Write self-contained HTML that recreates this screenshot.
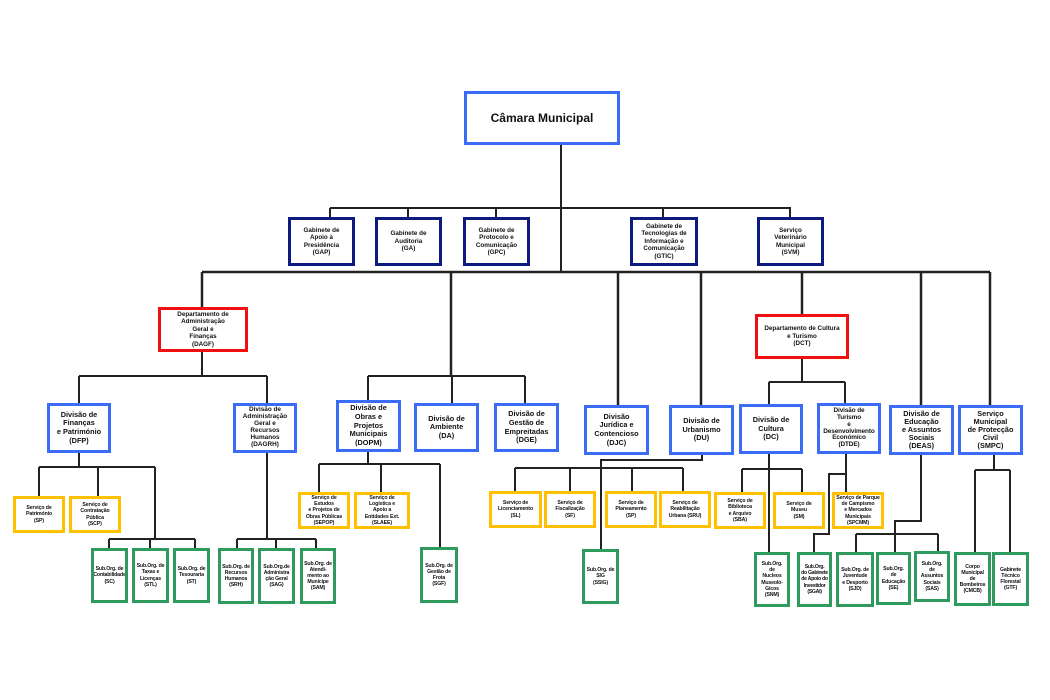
<!DOCTYPE html>
<html><head><meta charset="utf-8"><style>
html,body{margin:0;padding:0;background:#fff;width:1050px;height:700px;overflow:hidden}
.b{position:absolute;box-sizing:border-box;border:3px solid;display:flex;align-items:center;justify-content:center;text-align:center;font-family:"Liberation Sans",sans-serif;font-weight:bold;color:#111;background:#fff;line-height:1.18;overflow:hidden}
.bl{border-color:#3b6cf5;font-size:7.3px}
.nv{border-color:#0d1a80;font-size:6.3px;border-width:3.5px}
.rd{border-color:#f01010;font-size:6.3px}
.yl{border-color:#ffc000;font-size:5.2px;border-width:3.5px;letter-spacing:-0.1px}
.gr{border-color:#2e9a5e;font-size:5.2px;border-width:3.5px;letter-spacing:-0.15px}
svg{position:absolute;left:0;top:0}
</style></head><body>
<svg width="1050" height="700" fill="none" stroke="#222" stroke-width="2">
<path d="M561 144V272"/>
<path d="M330 208H791M330 208V217M408 208V217M496 208V217M663 208V217M790 208V217"/>
<path d="M202 272H990" stroke-width="2.5"/>
<path d="M202 272V307M451 272V376M618 272V405M701 272V405M802 272V314M921 272V405M990 272V405" stroke-width="2.5"/>
<path d="M202 351V376M79 376H267M79 376V403M267 376V403"/>
<path d="M79 452V467M39 467H155M39 467V496M98 467V496M155 467V539M109 539H195M109 539V548M150 539V548M195 539V548"/>
<path d="M267 452V539M237 539H316M237 539V548M276 539V548M316 539V548"/>
<path d="M368 376H525M368 376V400M452 376V403M525 376V403"/>
<path d="M368 451V464M319 464H440M319 464V492M381 464V492M440 464V547"/>
<path d="M702 454V460H601V549"/>
<path d="M515 468H683M515 468V491M570 468V491M632 468V491M683 468V491"/>
<path d="M802 358V382M769 382H845M769 382V404M845 382V403"/>
<path d="M769 453V552M742 469H802M742 469V492M802 469V492"/>
<path d="M846 453V492M846 474H829V534H814V552"/>
<path d="M921 454V521H895V552M856 534H938M856 534V552M938 534V551"/>
<path d="M994 454V470M975 470H1010M975 470V552M1010 470V552"/>
</svg>

<div class="b bl" style="left:464px;top:91px;width:156px;height:54px;font-size:12px">Câmara Municipal</div>

<div class="b nv" style="left:288px;top:217px;width:67px;height:49px">Gabinete de<br>Apoio à<br>Presidência<br>(GAP)</div>
<div class="b nv" style="left:375px;top:217px;width:67px;height:49px">Gabinete de<br>Auditoria<br>(GA)</div>
<div class="b nv" style="left:463px;top:217px;width:67px;height:49px">Gabinete de<br>Protocolo e<br>Comunicação<br>(GPC)</div>
<div class="b nv" style="left:630px;top:217px;width:68px;height:49px">Gabinete de<br>Tecnologias de<br>Informação e<br>Comunicação<br>(GTIC)</div>
<div class="b nv" style="left:757px;top:217px;width:67px;height:49px">Serviço<br>Veterinário<br>Municipal<br>(SVM)</div>

<div class="b rd" style="left:158px;top:307px;width:90px;height:45px">Departamento de<br>Administração<br>Geral e<br>Finanças<br>(DAGF)</div>
<div class="b rd" style="left:755px;top:314px;width:94px;height:45px">Departamento de Cultura<br>e Turismo<br>(DCT)</div>

<div class="b bl" style="left:47px;top:403px;width:64px;height:50px">Divisão de<br>Finanças<br>e Património<br>(DFP)</div>
<div class="b bl" style="left:233px;top:403px;width:64px;height:50px;font-size:6.4px;line-height:1.08">Divisão de<br>Administração<br>Geral e<br>Recursos<br>Humanos<br>(DAGRH)</div>
<div class="b bl" style="left:336px;top:400px;width:65px;height:52px">Divisão de<br>Obras e<br>Projetos<br>Municipais<br>(DOPM)</div>
<div class="b bl" style="left:414px;top:403px;width:65px;height:49px">Divisão de<br>Ambiente<br>(DA)</div>
<div class="b bl" style="left:494px;top:403px;width:65px;height:49px">Divisão de<br>Gestão de<br>Empreitadas<br>(DGE)</div>
<div class="b bl" style="left:584px;top:405px;width:65px;height:50px">Divisão<br>Jurídica e<br>Contencioso<br>(DJC)</div>
<div class="b bl" style="left:669px;top:405px;width:65px;height:50px">Divisão de<br>Urbanismo<br>(DU)</div>
<div class="b bl" style="left:739px;top:404px;width:64px;height:50px">Divisão de<br>Cultura<br>(DC)</div>
<div class="b bl" style="left:817px;top:403px;width:64px;height:51px;font-size:6.4px;line-height:1.08;letter-spacing:-0.1px">Divisão de<br>Turismo<br>e<br>Desenvolvimento<br>Económico<br>(DTDE)</div>
<div class="b bl" style="left:889px;top:405px;width:65px;height:50px;line-height:1.1">Divisão de<br>Educação<br>e Assuntos<br>Sociais<br>(DEAS)</div>
<div class="b bl" style="left:958px;top:405px;width:65px;height:50px;line-height:1.1">Serviço<br>Municipal<br>de Protecção<br>Civil<br>(SMPC)</div>

<div class="b yl" style="left:13px;top:496px;width:52px;height:37px">Serviço de<br>Património<br>(SP)</div>
<div class="b yl" style="left:69px;top:496px;width:52px;height:37px">Serviço de<br>Contratação<br>Pública<br>(SCP)</div>
<div class="b yl" style="left:298px;top:492px;width:52px;height:37px">Serviço de<br>Estudos<br>e Projetos de<br>Obras Públicas<br>(SEPOP)</div>
<div class="b yl" style="left:354px;top:492px;width:56px;height:37px">Serviço de<br>Logística e<br>Apoio a<br>Entidades Ext.<br>(SLAEE)</div>
<div class="b yl" style="left:489px;top:491px;width:53px;height:37px">Serviço de<br>Licenciamento<br>(SL)</div>
<div class="b yl" style="left:544px;top:491px;width:52px;height:37px">Serviço de<br>Fiscalização<br>(SF)</div>
<div class="b yl" style="left:605px;top:491px;width:52px;height:37px">Serviço de<br>Planeamento<br>(SP)</div>
<div class="b yl" style="left:659px;top:491px;width:52px;height:37px">Serviço de<br>Reabilitação<br>Urbana (SRU)</div>
<div class="b yl" style="left:714px;top:492px;width:52px;height:37px">Serviço de<br>Biblioteca<br>e Arquivo<br>(SBA)</div>
<div class="b yl" style="left:773px;top:492px;width:52px;height:37px">Serviço de<br>Museu<br>(SM)</div>
<div class="b yl" style="left:832px;top:492px;width:52px;height:37px">Serviço de Parque<br>de Campismo<br>e Mercados<br>Municipais<br>(SPCMM)</div>

<div class="b gr" style="left:91px;top:548px;width:37px;height:55px">Sub.Org. de<br>Contabilidade<br>(SC)</div>
<div class="b gr" style="left:132px;top:548px;width:37px;height:55px">Sub.Org. de<br>Taxas e<br>Licenças<br>(STL)</div>
<div class="b gr" style="left:173px;top:548px;width:37px;height:55px">Sub.Org. de<br>Tesouraria<br>(ST)</div>
<div class="b gr" style="left:218px;top:548px;width:36px;height:56px">Sub.Org. de<br>Recursos<br>Humanos<br>(SRH)</div>
<div class="b gr" style="left:258px;top:548px;width:37px;height:56px">Sub.Org.de<br>Administra<br>ção Geral<br>(SAG)</div>
<div class="b gr" style="left:300px;top:548px;width:36px;height:56px">Sub.Org. de<br>Atendi-<br>mento ao<br>Munícipe<br>(SAM)</div>
<div class="b gr" style="left:420px;top:547px;width:38px;height:56px">Sub.Org. de<br>Gestão de<br>Frota<br>(SGF)</div>
<div class="b gr" style="left:582px;top:549px;width:37px;height:55px">Sub.Org. de<br>SIG<br>(SSIG)</div>
<div class="b gr" style="left:754px;top:552px;width:36px;height:55px">Sub.Org.<br>de<br>Nucleos<br>Museoló-<br>Gicos<br>(SNM)</div>
<div class="b gr" style="left:797px;top:552px;width:35px;height:55px;letter-spacing:-0.3px">Sub.Org.<br>do Gabinete<br>de Apoio do<br>Investidor<br>(SGAI)</div>
<div class="b gr" style="left:836px;top:552px;width:38px;height:55px">Sub.Org. de<br>Juventude<br>e Desporto<br>(SJD)</div>
<div class="b gr" style="left:876px;top:552px;width:35px;height:53px">Sub.Org.<br>de<br>Educação<br>(SE)</div>
<div class="b gr" style="left:914px;top:551px;width:36px;height:51px">Sub.Org.<br>de<br>Assuntos<br>Sociais<br>(SAS)</div>
<div class="b gr" style="left:954px;top:552px;width:37px;height:54px">Corpo<br>Municipal<br>de<br>Bombeiros<br>(CMCB)</div>
<div class="b gr" style="left:992px;top:552px;width:37px;height:54px">Gabinete<br>Técnico<br>Florestal<br>(GTF)</div>
</body></html>
